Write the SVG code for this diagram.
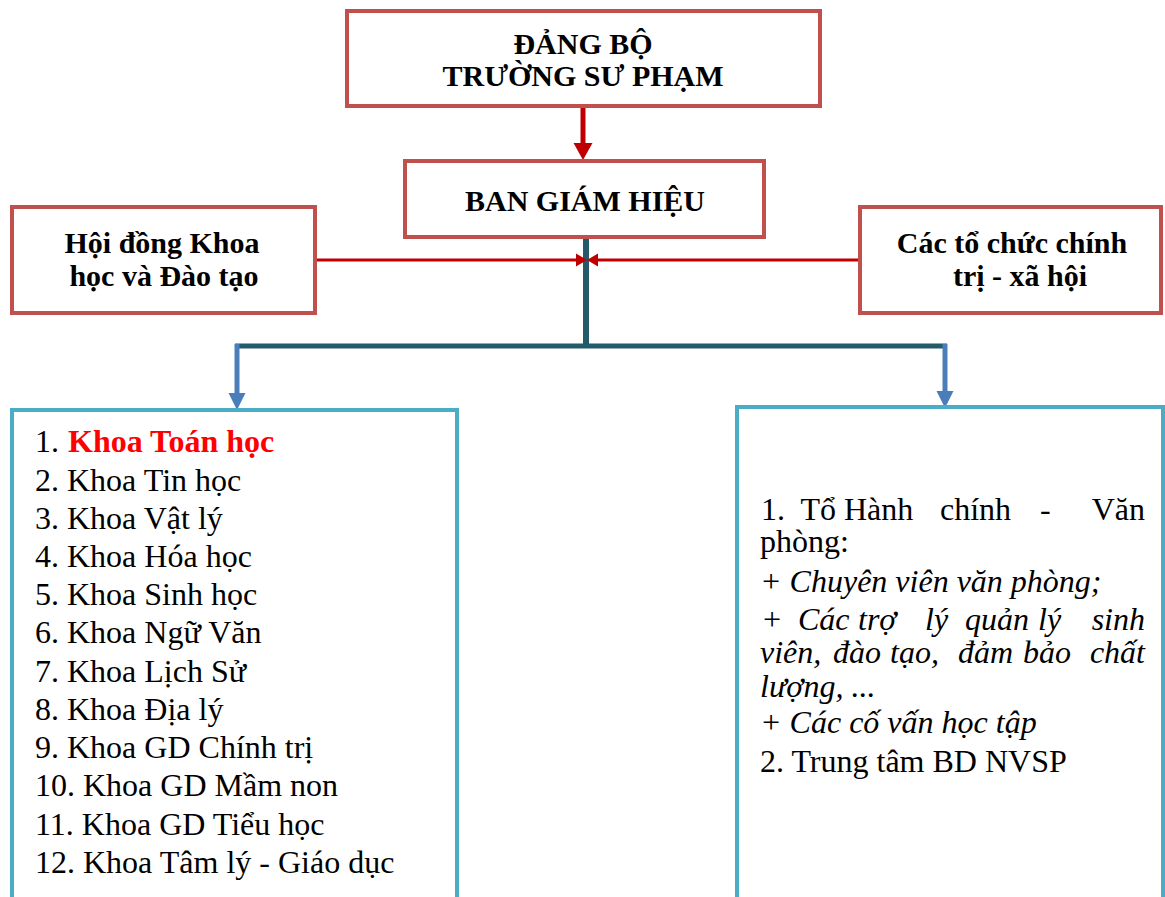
<svg xmlns="http://www.w3.org/2000/svg" width="1165" height="897" viewBox="0 0 1165 897">
<style>
.rbox{fill:#fff;stroke:#C0504D;stroke-width:4}
.bbox{fill:#fff;stroke:#4BACC6;stroke-width:4}
.hd{font-family:'Liberation Serif',serif;font-weight:bold;font-size:30px;fill:#000}
.bd{font-family:'Liberation Serif',serif;font-size:32px;fill:#000}
.it{font-family:'Liberation Serif',serif;font-size:32px;font-style:italic;fill:#000}
.red{font-family:'Liberation Serif',serif;font-size:32px;fill:#FF0000;font-weight:bold}
.rl{stroke:#C00000;stroke-width:3;fill:none}
.rf{fill:#C00000}
.tl{stroke:#235B69;fill:none}
.bl{stroke:#4A7EBB;stroke-width:5;fill:none}
.bf{fill:#4A7EBB}
</style>
<rect width="1165" height="897" fill="#fff"/>
<g id="connectors">
  <line class="rl" x1="583" y1="106" x2="583" y2="145" style="stroke-width:5"/>
  <polygon class="rf" points="573.5,143 592.5,143 583,160"/>
  <line class="tl" x1="586" y1="238" x2="586" y2="346" style="stroke-width:6"/>
  <line class="tl" x1="235" y1="346" x2="947" y2="346" style="stroke-width:5"/>
  <line class="bl" x1="237" y1="344" x2="237" y2="395"/>
  <polygon class="bf" points="228.5,393 245.5,393 237,410"/>
  <line class="bl" x1="945" y1="344" x2="945" y2="393"/>
  <polygon class="bf" points="936.5,391 953.5,391 945,408"/>
  <line class="rl" x1="315" y1="260" x2="578" y2="260"/>
  <polygon class="rf" points="576,253.5 587,260 576,266.5"/>
  <line class="rl" x1="860" y1="260" x2="596" y2="260"/>
  <polygon class="rf" points="598,253.5 587,260 598,266.5"/>
</g>
<g id="dang-bo">
  <rect class="rbox" x="347" y="11" width="473" height="95"/>
  <text class="hd" x="583" y="54" text-anchor="middle">ĐẢNG BỘ</text>
  <text class="hd" x="583" y="86" text-anchor="middle">TRƯỜNG SƯ PHẠM</text>
</g>
<g id="ban-giam-hieu">
  <rect class="rbox" x="405" y="161" width="359" height="76"/>
  <text class="hd" x="585" y="211" text-anchor="middle">BAN GIÁM HIỆU</text>
</g>
<g id="hoi-dong">
  <rect class="rbox" x="12" y="207" width="303" height="106"/>
  <text class="hd" x="162" y="253" text-anchor="middle">Hội đồng Khoa</text>
  <text class="hd" x="164" y="286" text-anchor="middle">học và Đào tạo</text>
</g>
<g id="to-chuc">
  <rect class="rbox" x="860" y="207" width="301" height="106"/>
  <text class="hd" x="1012" y="253" text-anchor="middle">Các tổ chức chính</text>
  <text class="hd" x="1020" y="286" text-anchor="middle">trị - xã hội</text>
</g>
<g id="cac-khoa">
  <rect class="bbox" x="12" y="410" width="445" height="500"/>
  <text class="bd" x="35" y="452">1.</text>
  <text class="red" x="68" y="452">Khoa Toán học</text>
  <text class="bd" x="35" y="491">2. Khoa Tin học</text>
  <text class="bd" x="35" y="529">3. Khoa Vật lý</text>
  <text class="bd" x="35" y="567">4. Khoa Hóa học</text>
  <text class="bd" x="35" y="605">5. Khoa Sinh học</text>
  <text class="bd" x="35" y="643">6. Khoa Ngữ Văn</text>
  <text class="bd" x="35" y="682">7. Khoa Lịch Sử</text>
  <text class="bd" x="35" y="720">8. Khoa Địa lý</text>
  <text class="bd" x="35" y="758">9. Khoa GD Chính trị</text>
  <text class="bd" x="35" y="796">10. Khoa GD Mầm non</text>
  <text class="bd" x="35" y="835">11. Khoa GD Tiểu học</text>
  <text class="bd" x="35" y="873">12. Khoa Tâm lý - Giáo dục</text>
</g>
<g id="phong-ban">
  <rect class="bbox" x="737" y="407" width="426" height="500"/>
  <text class="bd" x="761" y="520">1.&#160; Tổ Hành</text>
  <text class="bd" x="940" y="520">chính</text>
  <text class="bd" x="1040" y="520">-</text>
  <text class="bd" x="1145" y="520" text-anchor="end">Văn</text>
  <text class="bd" x="760" y="552">phòng:</text>
  <text class="it" x="760" y="592">+ Chuyên viên văn phòng;</text>
  <text class="it" x="761" y="630">+</text>
  <text class="it" x="798" y="630">Các</text>
  <text class="it" x="858" y="630">trợ</text>
  <text class="it" x="925" y="630">lý</text>
  <text class="it" x="965" y="630">quản</text>
  <text class="it" x="1038" y="630">lý</text>
  <text class="it" x="1145" y="630" text-anchor="end">sinh</text>
  <text class="it" x="760" y="663">viên,</text>
  <text class="it" x="833" y="663">đào</text>
  <text class="it" x="890" y="663">tạo,</text>
  <text class="it" x="958" y="663">đảm</text>
  <text class="it" x="1023" y="663">bảo</text>
  <text class="it" x="1145" y="663" text-anchor="end">chất</text>
  <text class="it" x="760" y="697">lượng, ...</text>
  <text class="it" x="760" y="733">+ Các cố vấn học tập</text>
  <text class="bd" x="760" y="772">2. Trung tâm BD NVSP</text>
</g>
</svg>
